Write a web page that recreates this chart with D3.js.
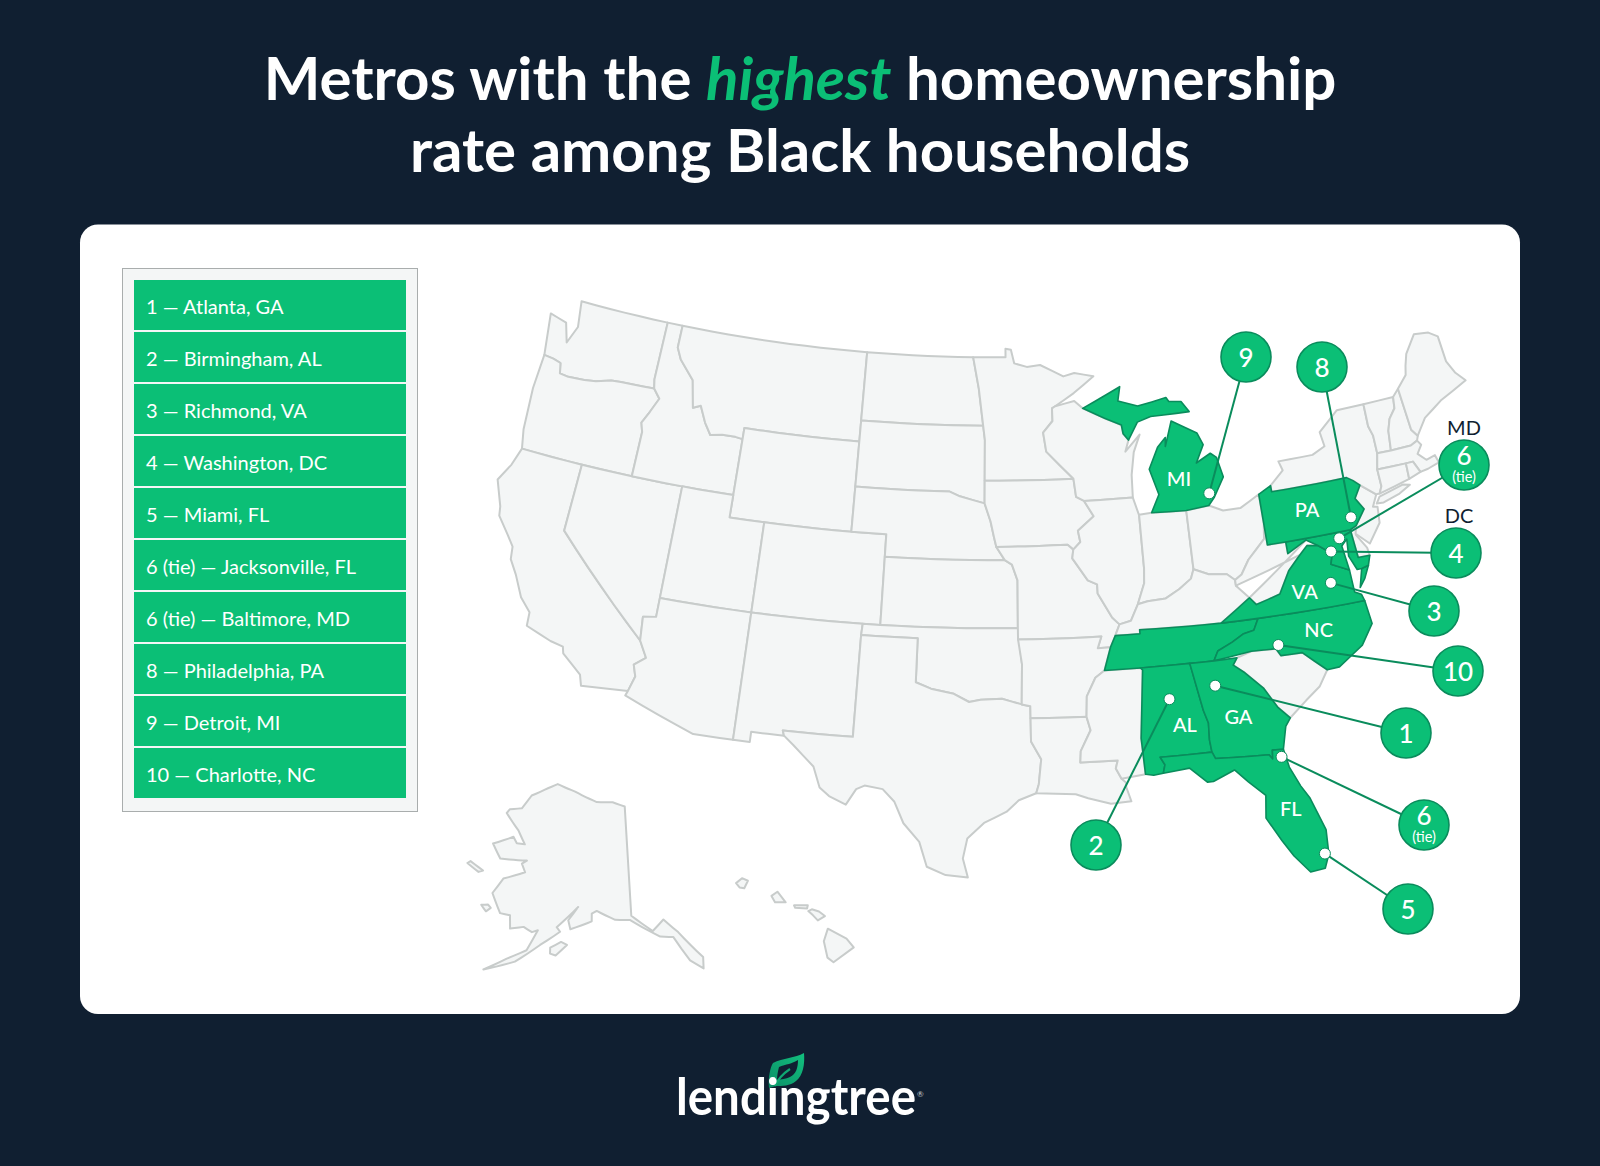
<!DOCTYPE html>
<html><head><meta charset="utf-8">
<script src="https://cdn.jsdelivr.net/npm/d3@7"></script>
<style>html,body{margin:0;padding:0;background:#101f31}svg{display:block}text{font-family:Lato,sans-serif}</style>
</head><body><svg id="c" width="1600" height="1166"></svg>
<script>
// ---------- chart content ----------
const titleLine1 = ["Metros with the ", "highest", " homeownership"];
const titleLine2 = "rate among Black households";
const ranks = ["1","2","3","4","5","6","6","8","9","10"];
const tied = [false,false,false,false,false,true,true,false,false,false];
const metros = ["Atlanta, GA","Birmingham, AL","Richmond, VA","Washington, DC","Miami, FL","Jacksonville, FL","Baltimore, MD","Philadelphia, PA","Detroit, MI","Charlotte, NC"];
const metroLonLat = [[-84.42,33.9],[-86.85,33.52],[-77.46,37.6],[-77.1,38.95],[-80.3,25.85],[-81.6,30.4],[-76.5,39.45],[-75.6,40.25],[-83.35,42.33],[-80.84,35.3]];
const badgeX = [1406,1096,1434,1456,1408,1424,1464,1322,1246,1458];
const badgeY = [733,845,611,553,909,825,465,367,357,671];
const badgeNote = [null,null,null,"DC",null,null,"MD",null,null,null];
const badgeNoteShift = [0,0,0,3,0,0,0,0,0,0];
const stateLabels = ["MI","PA","VA","NC","AL","GA","FL"];
const stateLabelLonLat = [[-85,43.1],[-77.95,40.95],[-78.95,37.42],[-78.6,35.65],[-86.2,32.3],[-83.45,32.4],[-81.55,28.05]];

// ---------- shared borders, lon/lat ----------
const rev = a => a.slice().reverse();
const columbia=[[-124,46.25],[-123.4,46.2],[-122.9,46.1],[-122.75,45.65],[-122.2,45.6],[-121.2,45.65],[-120.5,45.72],[-119.6,45.92],[-119,45.95],[-116.92,46]];
const snake=[[-116.92,46],[-116.47,45.6],[-116.85,44.95],[-117.2,44.4],[-117.03,44],[-117.03,42]];
const idMt=[[-116.05,49],[-116.05,48],[-115.7,47.5],[-114.7,46.7],[-114.35,45.5],[-113.9,45.65],[-113.45,44.95],[-113,44.45],[-112.3,44.55],[-111.5,44.55],[-111.05,44.5]];
const coRiver=[[-114.72,32.72],[-114.5,33.4],[-114.7,33.9],[-114.15,34.3],[-114.63,35]];
const redRiver=[[-94.48,33.64],[-95.5,33.9],[-96.6,33.85],[-97.2,33.75],[-98,34.1],[-99.2,34.3],[-100,34.56]];
const missouriR=[[-96.45,42.5],[-96.1,41.7],[-95.9,41],[-95.77,40.58]];
const missouriK=[[-95.77,40.58],[-95.3,40],[-94.9,39.8],[-94.6,39.1]];
const stCroix=[[-92.1,46.75],[-92.3,46.66],[-92.3,46.1],[-92.9,45.6],[-92.75,44.75],[-91.2,43.5]];
const missA=[[-91.2,43.5],[-91.1,42.7],[-90.65,42.5]];
const missB=[[-90.65,42.5],[-90.15,41.8],[-91.1,41.2],[-91,40.7],[-91.42,40.38]];
const missC=[[-91.42,40.38],[-91.5,40],[-90.7,39],[-90.2,38.8],[-90.2,38.4],[-89.5,37.3],[-89.13,36.98]];
const missF=[[-89.7,36],[-90.1,35]];
const missG=[[-90.1,35],[-90.6,34.7],[-91.1,33.9],[-91.17,33]];
const missH=[[-91.17,33],[-91,32.4],[-91.55,31.5],[-91.6,31]];
const ohioA=[[-89.13,36.98],[-88.5,37.1],[-88.05,37.8]];
const ohioB=[[-88.05,37.8],[-87.5,37.9],[-86.5,37.95],[-85.7,38.3],[-85,38.7],[-84.8,39.1]];
const ohioC=[[-84.8,39.1],[-84,38.8],[-83,38.7],[-82.6,38.4]];
const ohioD=[[-82.6,38.4],[-82.2,38.6],[-81.7,39.2],[-80.65,40],[-80.52,40.64]];
const wabash=[[-87.53,41.72],[-87.53,39.35],[-87.6,38.7],[-88.05,37.8]];
const wvVa=[[-81.97,37.54],[-81.65,37.2],[-80.3,37.5],[-79.6,38.45],[-78.9,39],[-78.35,39.4],[-77.75,39.32]];
const wvMd=[[-79.48,39.72],[-79.48,39.2],[-78.35,39.65],[-77.75,39.32]];
const potomac=[[-77.75,39.32],[-77.05,38.85],[-77.25,38.4],[-76.32,38]];
const alGa=[[-85.6,35],[-85.18,32.87],[-85,32.3],[-85.05,31.55],[-85,31]];
const gaSc=[[-83.1,35],[-83.35,34.7],[-82.8,34.3],[-81.95,33.5],[-81.4,32.6],[-80.85,32.05]];
const ncSc=[[-83.1,35],[-82.3,35.2],[-81,35.15],[-80.8,34.82],[-79.67,34.8],[-78.55,33.87]];
const tnNc=[[-84.32,34.99],[-84.05,35.4],[-83.25,35.7],[-82.6,36],[-82,36.1],[-81.68,36.59]];
const gaFl=[[-85,31],[-84.86,30.7],[-82.2,30.57],[-82.05,30.36],[-82,30.75],[-81.45,30.72]];
const paNj=[[-74.69,41.55],[-75.14,41.02],[-74.77,40.49],[-75.42,39.85]];
const wiMi=[[-90.4,46.6],[-89.1,46.1],[-88.1,45.74],[-88.04,45.35],[-87.75,45.05]];

// ---------- state outlines, lon/lat ----------
const WA=[[-122.75,49],[-117.03,49],[-117.03,46.4],...rev(columbia),[-124.4,48.1],[-123.3,47.9],[-122.9,47.05],[-122.5,47.85]];
const OR=[...columbia,...snake.slice(1),[-123.6,42],[-123.85,42.84],[-124.05,44.7]];
const CA=[[-123.6,42],[-120,42],[-120,39],...rev(coRiver),[-117.12,32.53],[-117.3,33],[-118.4,33.75],[-118.5,34.03],[-119.2,34.15],[-120.6,34.55],[-120.65,35.15],[-121.3,35.7],[-121.9,36.6],[-122.4,37.2],[-122.5,37.75],[-122.95,38.2],[-123.7,38.9],[-123.8,39.3],[-124.4,40.4],[-123.9,41.2]];
const NV=[[-120,42],[-114.05,42],[-114.05,36.15],[-114.74,36.05],[-114.63,35],[-120,39]];
const ID=[[-117.03,49],...idMt,[-111.05,42],[-117.03,42],...rev(snake),[-117.03,46.4]];
const MT=[...idMt,[-111.05,45],[-104.05,45],[-104.05,49]];
const WY=[[-111.05,45],[-104.05,45],[-104.05,41],[-111.05,41]];
const UT=[[-114.05,42],[-111.05,42],[-111.05,41],[-109.05,41],[-109.05,37],[-114.05,37]];
const CO=[[-109.05,41],[-102.05,41],[-102.05,37],[-109.05,37]];
const AZ=[[-114.05,37],[-109.05,37],[-109.05,31.33],[-111.07,31.33],[-114.81,32.5],...coRiver,[-114.74,36.05],[-114.05,36.15]];
const NM=[[-109.05,37],[-103,37],[-103.04,36.5],[-103.06,32],[-106.62,32],[-106.53,31.78],[-108.2,31.78],[-108.2,31.33],[-109.05,31.33]];
const ND=[[-104.05,49],[-97.23,49],[-96.85,47.6],[-96.56,45.94],[-104.05,45.94]];
const SD=[[-104.05,45.94],[-96.56,45.94],[-96.45,45.3],[-96.45,43.5],[-96.45,42.5],[-97.9,42.8],[-98.5,43],[-104.05,43]];
const NE=[[-104.05,43],[-98.5,43],[-97.9,42.8],...missouriR,[-95.3,40],[-102.05,40],[-102.05,41],[-104.05,41]];
const KS=[[-102.05,40],[-95.3,40],[-94.9,39.8],[-94.6,39.1],[-94.62,37],[-102.05,37]];
const OK=[[-103,37],[-94.62,37],[-94.43,35.4],...redRiver,[-100,36.5],[-103.04,36.5]];
const TX=[[-103.04,36.5],[-100,36.5],...rev(redRiver),[-94.04,33.55],[-94.04,32],[-93.55,31.2],[-93.7,30.1],[-93.84,29.7],[-94.7,29.4],[-95.3,28.9],[-96.4,28.4],[-97.2,27.7],[-97.4,26.8],[-97.15,25.96],[-98.2,26.05],[-99.1,26.4],[-99.5,27.5],[-100.3,28.3],[-100.8,29.25],[-101.4,29.77],[-102.3,29.88],[-102.7,29.7],[-103.15,28.98],[-104,29.3],[-104.5,29.65],[-104.9,30.55],[-106,31.4],[-106.53,31.78],[-106.62,32],[-103.06,32]];
const MN=[[-97.23,49],[-95.15,49],[-95.15,49.38],[-94.8,49.33],[-94.6,48.72],[-93.8,48.55],[-92.95,48.62],[-91.5,48.07],[-90.8,48.2],[-89.6,48],[-90.9,47.3],...stCroix,[-96.45,43.5],[-96.45,45.3],[-96.56,45.94],[-96.85,47.6]];
const IA=[[-96.45,43.5],...missA,...missB.slice(1),[-91.73,40.61],[-95.77,40.58],...rev(missouriR).slice(1)];
const MO=[[-95.77,40.58],[-91.73,40.61],...missC,[-89.4,36.5],[-89.7,36],[-90.38,35.99],[-90.15,36.5],[-94.62,36.5],[-94.62,37],...rev(missouriK).slice(0,-1)];
const AR=[[-94.62,36.5],[-90.15,36.5],[-90.38,35.99],...missF,...missG.slice(1),[-94.04,33.02],[-94.04,33.55],[-94.48,33.64],[-94.43,35.4]];
const LA=[[-94.04,33.02],...missH,[-89.73,31],[-89.85,30.65],[-89.6,30.18],[-89.4,30],[-89.4,29.8],[-89.2,29.15],[-90.2,29.1],[-91.3,29.4],[-91.9,29.6],[-93.84,29.7],[-93.7,30.1],[-93.55,31.2],[-94.04,32]];
const MS=[...rev(missG),[-88.2,35],[-88.1,34.9],[-88.47,31.9],[-88.4,30.3],[-89.6,30.18],[-89.85,30.65],[-89.73,31],...rev(missH).slice(0,-1)];
const WI=[[-92.1,46.75],[-90.9,46.95],...wiMi,[-88,44.55],[-87.05,45.25],[-87.5,44.5],[-87.75,43.5],[-87.8,42.5],...rev(missA),...rev(stCroix).slice(1,-1)];
const IL=[[-91.42,40.38],...rev(missB).slice(1,-1),[-90.65,42.5],[-87.8,42.5],[-87.55,41.75],...wabash,...rev(ohioA).slice(1),...rev(missC).slice(1,-1)];
const IN=[[-87.53,41.72],[-86.8,41.76],[-84.8,41.7],...rev(ohioB),...rev(wabash).slice(1,-1)];
const OH=[[-84.8,41.7],[-83.47,41.8],[-82.7,41.5],[-81.7,41.5],[-80.52,41.98],...rev(ohioD),...rev(ohioC).slice(1)];
const KY=[[-89.4,36.5],[-89.13,36.98],...ohioA.slice(1),...ohioB.slice(1),...ohioC.slice(1),[-82.6,38.15],[-81.97,37.54],[-83.68,36.6],[-88.07,36.68],[-88.07,36.5]];
const TN=[[-89.7,36],[-89.4,36.5],[-88.07,36.5],[-88.07,36.68],[-83.68,36.6],[-81.68,36.59],...rev(tnNc).slice(1),[-85.6,35],[-88.2,35],[-90.1,35]];
const MI1=[[-86.8,41.76],[-86.27,42.53],[-86.68,43.68],[-86.05,44.61],[-85.52,45.01],[-85.58,44.61],[-85.05,45.71],[-83.59,45.05],[-83.31,44.5],[-83.86,43.73],[-82.96,44.08],[-82.63,43.86],[-82.4,42.97],[-83.08,42.14],[-83.47,41.8],[-84.8,41.7]];
const MI2=[[-90.4,46.6],[-88,47.45],[-88.19,46.82],[-87,46.52],[-85.2,46.77],[-85.05,46.58],[-84.3,46.52],[-83.88,46.03],[-86.27,46],[-87.11,45.81],[-87.75,45.05],[-88.04,45.35],[-88.1,45.74],[-89.1,46.1]];
const AL=[...alGa,[-87.6,31],[-87.4,30.65],[-87.52,30.28],[-88,30.23],[-88.4,30.3],[-88.47,31.9],[-88.1,34.9],[-88.2,35]];
const GA=[[-85.6,35],[-84.32,34.99],...gaSc,[-81.15,31.7],[-81.45,30.72],...rev(gaFl).slice(1),...rev(alGa).slice(1,-1)];
const FL=[[-87.6,31],...gaFl,[-81.3,29.9],[-80.9,29],[-80.55,28.4],[-80.05,26.9],[-80.12,25.8],[-80.4,25.2],[-81.1,25.13],[-81.75,25.95],[-82.2,26.7],[-82.8,27.8],[-82.65,28.8],[-83.4,29.5],[-84,30.1],[-85.1,29.7],[-85.4,29.7],[-86.2,30.4],[-87.52,30.28],[-87.4,30.65]];
const SC=[...ncSc,[-79.1,33.2],[-79.9,32.7],...rev(gaSc).slice(0,-1)];
const NC=[...tnNc,[-75.87,36.55],[-75.75,35.5],[-76.5,34.65],[-77.9,33.9],...rev(ncSc).slice(0,-1)];
const VA=[[-83.68,36.6],...wvVa,...potomac.slice(1),[-76.3,37],[-75.97,36.85],[-75.87,36.55],[-81.68,36.59]];
const VAe=[[-75.95,37.15],[-75.65,37.95],[-75.25,38.03],[-75.6,37.5]];
const WV=[...rev(wvVa),...rev(wvMd).slice(1),[-80.52,39.72],[-80.52,40.64],...rev(ohioD).slice(1),[-82.6,38.15]];
const MD=[...wvMd,...potomac.slice(1),[-76.45,39.1],[-76.1,39.35],[-76.2,38.6],[-75.9,37.95],[-75.65,37.95],[-75.25,38.03],[-75.05,38.45],[-75.7,38.46],[-75.79,39.72]];
const DE=[[-75.79,39.72],[-75.42,39.85],[-75.55,39.45],[-75.1,38.8],[-75.05,38.45],[-75.7,38.46]];
const PA=[[-80.52,41.98],[-79.76,42.27],[-79.76,42],[-75.35,42],[-75.02,41.81],...paNj,[-75.79,39.72],[-80.52,39.72]];
const NJ=[[-74.69,41.55],[-73.9,41],[-74.25,40.5],[-74,40.45],[-74.1,39.75],[-74.9,38.95],[-75.55,39.5],...rev(paNj).slice(0,-1)];
const NY=[[-79.76,42.27],[-78.9,42.85],[-79.05,43.27],[-77,43.28],[-76.2,43.55],[-76.3,44.2],[-75,45],[-73.35,45],[-73.4,44],[-73.25,43.55],[-73.27,42.75],[-73.5,42.05],[-73.5,41.3],[-73.7,41],[-73.9,41],[-74.69,41.55],[-75.02,41.81],[-75.35,42],[-79.76,42]];
const LI=[[-74,40.6],[-73.75,40.87],[-72.3,41.15],[-71.9,41.07],[-72.6,40.8],[-73.6,40.58]];
const VT=[[-73.35,45],[-71.5,45],[-71.6,44.5],[-72.05,44.1],[-72.3,43.6],[-72.45,42.73],[-73.27,42.75],[-73.25,43.55],[-73.4,44]];
const NH=[[-71.5,45],[-71.08,45.3],[-70.98,43.4],[-70.7,43.07],[-70.82,42.87],[-71.25,42.73],[-72.45,42.73],[-72.3,43.6],[-72.05,44.1],[-71.6,44.5]];
const ME=[[-71.08,45.3],[-70.4,45.8],[-70.25,46.2],[-70,46.7],[-69.2,47.45],[-68.3,47.35],[-67.8,47.07],[-67.78,45.9],[-67.45,45.3],[-67,44.85],[-68.8,44.3],[-70,43.75],[-70.7,43.07],[-70.98,43.4]];
const MA=[[-73.5,42.05],[-73.27,42.75],[-72.45,42.73],[-71.25,42.73],[-70.82,42.87],[-70.65,42.65],[-71,42.3],[-70.6,41.95],[-70.05,42.05],[-69.95,41.7],[-70.65,41.55],[-71.12,41.5],[-71.38,42.02],[-71.8,42.02]];
const CT=[[-73.5,42.05],[-71.8,42.02],[-71.85,41.32],[-73.7,41],[-73.5,41.3]];
const RI=[[-71.8,42.02],[-71.38,42.02],[-71.12,41.5],[-71.85,41.32]];
const AK=[[-158.1,71.2],[-153.4,70.8],[-147.8,70.05],[-143.9,70.05],[-141,69.65],[-141,60.3],[-137.6,58.85],[-135.6,59.7],[-133.5,58.45],[-130.4,55.95],[-130.7,55],[-132.45,55.9],[-134.4,58.1],[-136.5,58.3],[-141.3,59.95],[-143.8,60],[-147,60.75],[-147.85,60.5],[-147.8,59.85],[-151.3,59.05],[-151.8,59.8],[-150.3,61],[-153.6,59.1],[-152.95,58.75],[-155.85,57.4],[-159.2,55.6],[-163.45,54.3],[-160.5,55.7],[-157.8,56.75],[-156.6,58.6],[-157.5,58.35],[-159,58.65],[-161.1,58.25],[-161.65,59.35],[-163.35,59.3],[-165.6,60.75],[-164.5,62.2],[-160.9,63.2],[-161.9,63.85],[-161.1,64.2],[-166.2,63.75],[-168.5,64.75],[-165,65.85],[-163.95,65.4],[-162.3,65.5],[-164.4,66.5],[-168,67.6],[-167.6,68],[-165.1,68.4],[-163.75,69.7],[-160.2,70.7]];
const AKi1=[[-171.7,62.4],[-171.3,62.65],[-168.5,62.3],[-169.2,62.05]];
const AKi2=[[-166.8,59.5],[-165.7,59.7],[-165.1,59.5],[-165.7,59.1]];
const AKi3=[[-154.1,56.8],[-154.2,57.3],[-152.6,57.9],[-151.6,57.7],[-153.2,56.7]];
const HI1=[[-159.75,22.05],[-159.5,22.25],[-159.25,22.15],[-159.4,21.85],[-159.6,21.88]];
const HI2=[[-158.25,21.55],[-158,21.72],[-157.65,21.3],[-158.1,21.3]];
const HI3=[[-157.3,21.18],[-156.72,21.18],[-156.75,21.05],[-157.25,21.08]];
const HI4=[[-156.7,20.95],[-156.55,21.02],[-156.25,20.93],[-156,20.75],[-156.3,20.58],[-156.5,20.78]];
const HI5=[[-155.88,20.25],[-155.1,19.85],[-154.8,19.5],[-155.65,18.92],[-155.9,19.1],[-156.05,19.75]];

const lower48 = [["WA",WA],["OR",OR],["CA",CA],["NV",NV],["ID",ID],["MT",MT],["WY",WY],["UT",UT],["CO",CO],["AZ",AZ],["NM",NM],["ND",ND],["SD",SD],["NE",NE],["KS",KS],["OK",OK],["TX",TX],["MN",MN],["IA",IA],["MO",MO],["AR",AR],["LA",LA],["MS",MS],["WI",WI],["IL",IL],["IN",IN],["OH",OH],["KY",KY],["WV",WV],["SC",SC],["DE",DE],["NJ",NJ],["NY",NY],["LI",LI],["VT",VT],["NH",NH],["ME",ME],["MA",MA],["CT",CT],["RI",RI]];
const highlighted = [["TN",TN],["NC",NC],["VA",VA],["VAe",VAe],["MD",MD],["PA",PA],["AL",AL],["GA",GA],["FL",FL],["MI1",MI1],["MI2",MI2]];

// ---------- colours ----------
const GREEN="#0bbf76", GREEN_D="#0a8c5c", NAVY="#101f31", LAND="#f4f6f6", EDGE="#c8cccb";

// ---------- projections ----------
const albers=d3.geoAlbers().center([0,0]).scale(1).translate([0,0]);
const xMap=d3.scaleLinear().domain([0,1]).range([992.3,992.3+1342]);
const yMap=d3.scaleLinear().domain([0,1]).range([1423.2,1423.2+1290]);
const p48=ll=>{const q=albers(ll);return [xMap(q[0]),yMap(q[1])];};
const pAK=d3.geoConicEqualArea().parallels([55,65]).rotate([145,0]).center([4,60.3]).scale(672).translate([631.3,915.7]);
const pHI=d3.geoConicEqualArea().parallels([8,18]).rotate([157,0]).center([1.5,19.6]).scale(1450).translate([837,945]);

function dense(ring){
  const out=[];
  ring.forEach((a,i)=>{
    const b=ring[(i+1)%ring.length];
    const n=Math.max(1,Math.ceil(Math.abs(b[0]-a[0])));
    for(let k=0;k<n;k++) out.push([a[0]+(b[0]-a[0])*k/n,a[1]+(b[1]-a[1])*k/n]);
  });
  return out;
}
const line=d3.line();
const ringD=(ring,proj)=>line(dense(ring).map(proj))+"Z";

const svg=d3.select("#c");
svg.append("rect").attr("width",1600).attr("height",1166).attr("fill",NAVY);
svg.append("rect").attr("x",80).attr("y",224.5).attr("width",1440).attr("height",789.5).attr("rx",18).attr("fill","#fff");

// title
const t1=svg.append("text").attr("x",800).attr("y",100).attr("text-anchor","middle").attr("font-size",60).attr("font-weight",700).attr("fill","#fff");
t1.selectAll("tspan").data(titleLine1).join("tspan").style("white-space","pre").text(d=>d)
  .attr("fill",(d,i)=>i===1?GREEN:"#fff").attr("font-style",(d,i)=>i===1?"italic":"normal");
svg.append("text").attr("x",800).attr("y",172).attr("text-anchor","middle").attr("font-size",60).attr("font-weight",700).attr("fill","#fff").text(titleLine2);

// legend
svg.append("rect").attr("x",122.5).attr("y",268.5).attr("width",295).attr("height",543).attr("fill",LAND).attr("stroke","#a9adad").attr("stroke-width",1);
const rowY=d3.scaleBand().domain(d3.range(ranks.length)).range([280,798]).paddingInner(2/52);
const rows=svg.append("g").selectAll("g").data(metros).join("g").attr("transform",(d,i)=>`translate(134,${rowY(i)})`);
rows.append("rect").attr("width",272).attr("height",rowY.bandwidth()).attr("fill",GREEN);
rows.append("text").attr("x",12).attr("y",34).attr("font-size",20).attr("fill","#fff").attr("font-weight",400)
  .text((d,i)=>`${ranks[i]}${tied[i]?" (tie)":""} — ${d}`);

// map
const mapG=svg.append("g").attr("stroke-linejoin","round");
mapG.selectAll("path.l").data(lower48).join("path").attr("class","l").attr("d",d=>ringD(d[1],p48)).attr("fill",LAND).attr("stroke",EDGE).attr("stroke-width",2);
[[AK,pAK],[AKi1,pAK],[AKi2,pAK],[AKi3,pAK],[HI1,pHI],[HI2,pHI],[HI3,pHI],[HI4,pHI],[HI5,pHI]].forEach(([r,pr])=>{
  mapG.append("path").attr("d",ringD(r,pr)).attr("fill",LAND).attr("stroke",EDGE).attr("stroke-width",2);
});
mapG.selectAll("path.h").data(highlighted).join("path").attr("class","h").attr("d",d=>ringD(d[1],p48)).attr("fill",GREEN).attr("stroke",GREEN_D).attr("stroke-width",1.6);

// state labels
svg.append("g").selectAll("text").data(stateLabels).join("text").text(d=>d).attr("text-anchor","middle").attr("font-size",20).attr("font-weight",500).attr("fill","#fff")
  .attr("x",(d,i)=>p48(stateLabelLonLat[i])[0]).attr("y",(d,i)=>p48(stateLabelLonLat[i])[1]+7);

// leaders, dots, badges
const order=d3.range(metros.length);
svg.append("g").selectAll("line").data(order).join("line").attr("stroke",GREEN_D).attr("stroke-width",2)
  .attr("x1",i=>p48(metroLonLat[i])[0]).attr("y1",i=>p48(metroLonLat[i])[1]).attr("x2",i=>badgeX[i]).attr("y2",i=>badgeY[i]);
svg.append("g").selectAll("circle").data(order).join("circle").attr("r",5.5).attr("fill","#fff").attr("stroke",GREEN_D).attr("stroke-width",1)
  .attr("cx",i=>p48(metroLonLat[i])[0]).attr("cy",i=>p48(metroLonLat[i])[1]);
const badges=svg.append("g").selectAll("g").data(order).join("g").attr("transform",i=>`translate(${badgeX[i]},${badgeY[i]})`);
badges.append("circle").attr("r",25).attr("fill",GREEN).attr("stroke",GREEN_D).attr("stroke-width",1.6);
badges.append("text").attr("text-anchor","middle").attr("font-size",26).attr("font-weight",500).attr("fill","#fff").attr("y",i=>tied[i]?0:9.5).text(i=>ranks[i]);
badges.filter(i=>tied[i]).append("text").attr("text-anchor","middle").attr("font-size",14.5).attr("fill","#fff").attr("y",17).text("(tie)");
badges.filter(i=>badgeNote[i]).append("text").attr("text-anchor","middle").attr("font-size",20).attr("fill",NAVY).attr("x",i=>badgeNoteShift[i]).attr("y",-30).text(i=>badgeNote[i]);

// logo
const grad=svg.append("defs").append("linearGradient").attr("id","leaf").attr("x1",1).attr("y1",0).attr("x2",0).attr("y2",1);
grad.append("stop").attr("offset",0).attr("stop-color","#12c07e");
grad.append("stop").attr("offset",1).attr("stop-color","#0c8f68");
svg.append("path").attr("d","M773,1063 C783,1058 795,1058 804,1053 C805,1064 803,1076 796,1081 C790,1086 782,1086 776,1086 L769,1088 C768,1078 770,1068 773,1063Z").attr("fill","url(#leaf)");
svg.append("path").attr("d","M779,1067 C786,1064 792,1064 798,1060 C798,1068 796,1074 790,1077 C786,1079 781,1079 777,1080 C777,1075 778,1071 779,1067Z").attr("fill",NAVY);
svg.append("path").attr("d","M775,1086 C778,1079 784,1073 790,1069").attr("stroke","#0fa873").attr("stroke-width",2.2).attr("fill","none");
svg.append("text").attr("x",676).attr("y",1115).attr("font-size",52).attr("font-weight",700).attr("fill","#fff").attr("textLength",240).attr("lengthAdjust","spacingAndGlyphs").text("lendingtree");
svg.append("text").attr("x",917).attr("y",1097).attr("font-size",8).attr("fill","#c8ccd0").text("®");
</script></body></html>
